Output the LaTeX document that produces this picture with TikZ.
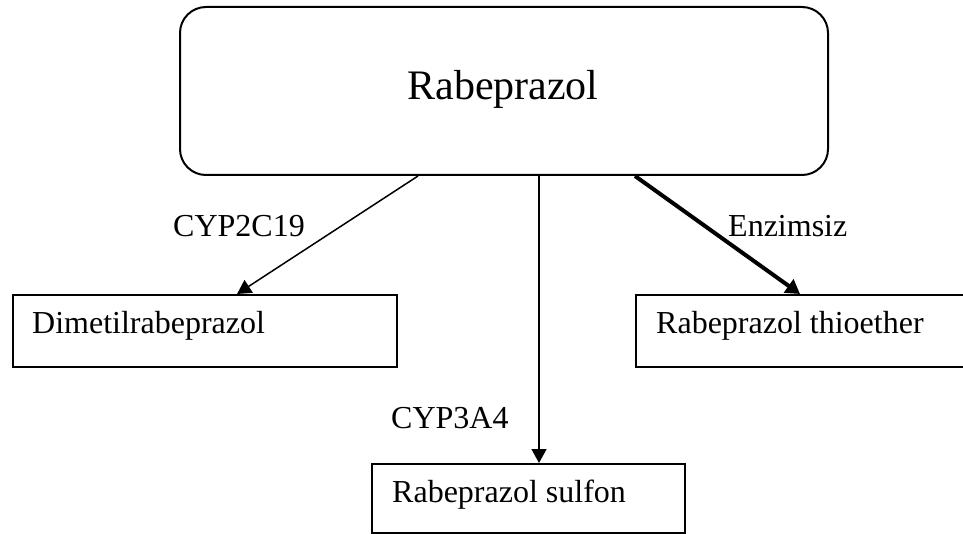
\documentclass[tikz,border=0pt]{standalone}
\usepackage{fontspec}
\setmainfont{Liberation Serif}
\usetikzlibrary{arrows.meta}
\tikzset{
  boxshape/.style={draw, line width=2pt, inner sep=0pt, anchor=north west},
  roundshape/.style={boxshape, rounded corners=26pt},
  lbl/.style={inner sep=0pt, anchor=base west, font=\fontsize{32}{36}\selectfont},
  conn/.style={line width=1.5pt, -{Triangle[length=14pt,width=15pt]}},
  thickconn/.style={line width=4pt, -{Triangle[length=14pt,width=16pt]}}
}
\begin{document}
\begin{tikzpicture}[x=1pt,y=-1pt]
\useasboundingbox (0,0) rectangle (963,534);
\clip (0,0) rectangle (963,534);
\fill[white] (0,0) rectangle (963,534);
% boxes
\node[roundshape, minimum width=648pt, minimum height=168pt] (top) at (179,6) {};
\node[inner sep=0pt, anchor=base, font=\fontsize{42}{48}\selectfont] (topt) at (503,100) {Rabeprazol};
\node[boxshape, minimum width=384pt, minimum height=72pt] (dim) at (12,294) {};
\node[lbl] (dimt) at (32,334) {Dimetilrabeprazol};
\node[boxshape, minimum width=340pt, minimum height=72pt] (thio) at (635,294) {};
\node[lbl] (thiot) at (656,334) {Rabeprazol thioether};
\node[boxshape, minimum width=313pt, minimum height=69pt] (sulf) at (371,463) {};
\node[lbl] (sulft) at (392,502) {Rabeprazol sulfon};
% labels
\node[lbl] (l1) at (173,237) {CYP2C19};
\node[lbl] (l2) at (391,428) {CYP3A4};
\node[lbl] (l3) at (728,237) {Enzimsiz};
% connectors
\draw[conn] (top.south -| 418,0) -- (dim.north -| 237,0);
\draw[conn] (top.south -| 539,0) -- (sulf.north -| 539,0);
\draw[thickconn] (top.south -| 635,0) -- (thio.north -| 800,0);
\end{tikzpicture}
\end{document}
